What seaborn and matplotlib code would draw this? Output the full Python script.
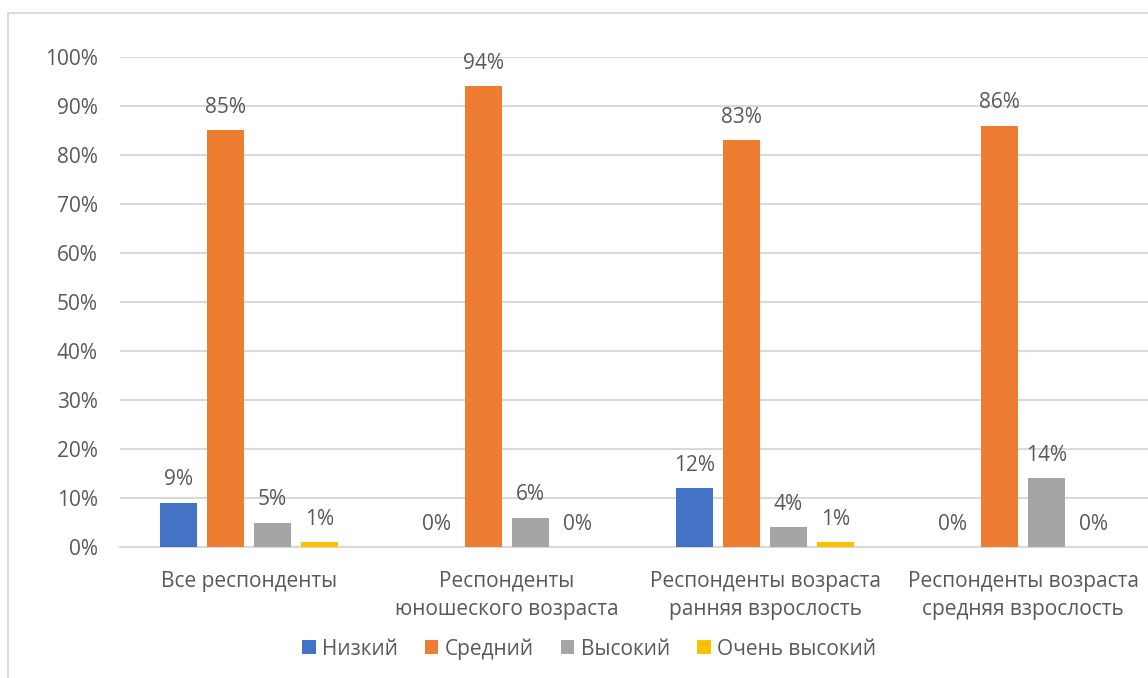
import matplotlib
matplotlib.use("Agg")
import matplotlib.pyplot as plt
from matplotlib.patches import Patch, Rectangle
import seaborn as sns
import pandas as pd

categories = ["Все респонденты", "Респонденты\nюношеского возраста",
              "Респонденты возраста\nранняя взрослость", "Респонденты возраста\nсредняя взрослость"]
series = ["Низкий", "Средний", "Высокий", "Очень высокий"]
low = [9, 0, 12, 0]
mid = [85, 94, 83, 86]
high = [5, 6, 4, 14]
very_high = [1, 0, 1, 0]
colors = ["#4472C4", "#ED7D31", "#A5A5A5", "#FFC000"]
y_ticks = [0, 10, 20, 30, 40, 50, 60, 70, 80, 90, 100]

sns.set_theme(style="white")
plt.rcParams["font.family"] = ["Open Sans", "DejaVu Sans"]
text_color = "#595959"
grid_color = "#D9D9D9"
fs = 15

rows = []
for s, vals in zip(series, [low, mid, high, very_high]):
    for c, v in zip(categories, vals):
        rows.append({"cat": c, "series": s, "value": v})
df = pd.DataFrame(rows)

W, H = 1148, 678
fig = plt.figure(figsize=(W / 100, H / 100), dpi=100)
fig.patches.append(Rectangle((7.5 / W, -0.1), 1.2, (H - 13) / H + 0.1, transform=fig.transFigure,
                             fill=False, edgecolor=grid_color, linewidth=1.3, zorder=0))

ax = fig.add_axes([120 / W, (H - 547) / H, 1032 / W, 490 / H])
sns.barplot(data=df, x="cat", y="value", hue="series", palette=colors, ax=ax,
            width=0.73, gap=0.2, legend=False, saturation=1, zorder=3, linewidth=0)

ax.set_ylim(0, 100)
ax.set_xlim(-0.5, 3.5)
ax.set_yticks(y_ticks)
ax.set_yticklabels([f"{t}%" for t in y_ticks])
ax.yaxis.grid(True, color=grid_color, linewidth=1.5, zorder=0)
ax.set_axisbelow(True)
for sp in ["top", "right", "left"]:
    ax.spines[sp].set_visible(False)
ax.spines["bottom"].set_color(grid_color)
ax.spines["bottom"].set_linewidth(1.5)
ax.set_xlabel("")
ax.set_ylabel("")
ax.tick_params(axis="y", length=0, pad=16, labelsize=fs, labelcolor=text_color)
ax.tick_params(axis="x", length=0, pad=17, labelsize=fs, labelcolor=text_color)
for lbl in ax.get_xticklabels():
    lbl.set_linespacing(1.45)

for cont, vals in zip(ax.containers, [low, mid, high, very_high]):
    ax.bar_label(cont, labels=[f"{v}%" for v in vals], padding=9,
                 fontsize=fs, color=text_color)

handles = [Patch(facecolor=c, edgecolor="none", label=s) for c, s in zip(colors, series)]
fig.legend(handles=handles, loc="center", bbox_to_anchor=(589 / W, 29 / H), ncol=4,
           frameon=False, fontsize=fs, labelcolor=text_color, handlelength=0.65,
           handleheight=0.65, handletextpad=0.3, columnspacing=1.3)

fig.savefig("out.png", dpi=100, facecolor="white")
